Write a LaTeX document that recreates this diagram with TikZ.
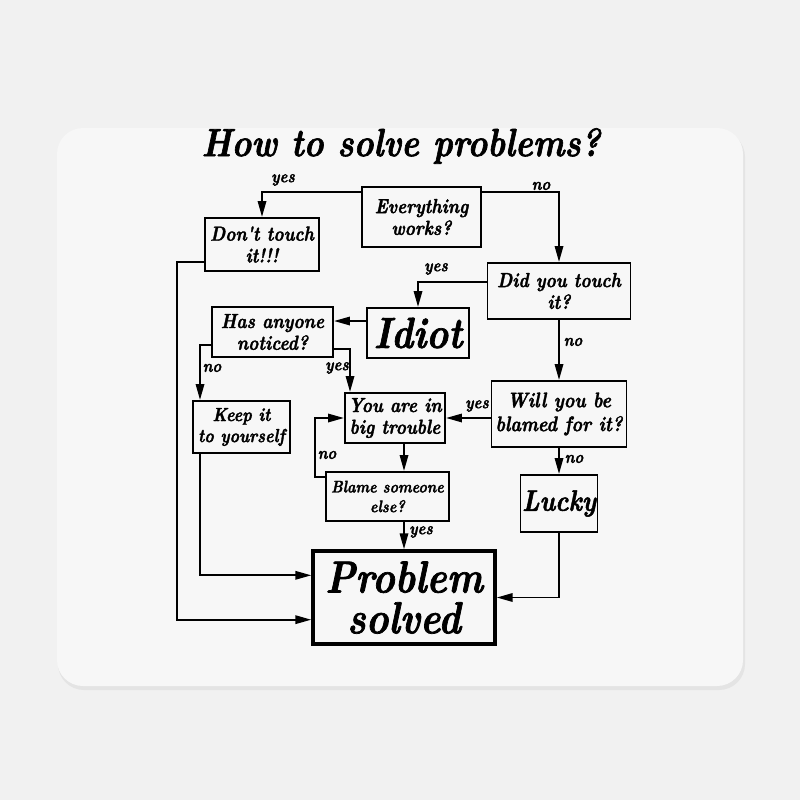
\documentclass[tikz,border=0pt]{standalone}
\usepackage{fontspec}
\usepackage{tikz}
\usetikzlibrary{positioning,arrows.meta,calc}
\newfontfamily\flowfam{lmroman10-bolditalic.otf}[FakeStretch=0.85, FakeBold=1.6]
\definecolor{bggray}{RGB}{241,241,241}
\definecolor{padgray}{RGB}{247,247,247}
\definecolor{shadegray}{RGB}{228,228,228}
\newcommand{\flowfont}[2]{\flowfam\fontsize{#1}{#2}\selectfont}
\tikzset{
  qbox/.style={draw=black, line width=1.4pt, align=center, inner sep=1pt, font=\flowfont{14.5}{15.5}},
  wh/.style 2 args={minimum width=#1*0.025cm, minimum height=#2*0.025cm},
  arr/.style={-{Triangle[length=4mm,width=2.1mm]}, line width=1.4pt, draw=black},
  lbl/.style={font=\flowfont{12.5}{12.5}, inner sep=0pt},
}

\begin{document}
\begin{tikzpicture}[x=0.025cm, y=-0.025cm]
    % mouse pad
    \fill[bggray] (0,0) rectangle (800,800);
    \fill[shadegray, rounded corners=0.65cm] (58,131) rectangle (745,690);
    \fill[padgray, rounded corners=0.65cm] (57,128) rectangle (743,686);
    \node[font=\flowfont{28}{30}] (title) at (401,146) {How to solve problems?};
    % boxes
    \node[qbox, wh={119}{60}] (works) at (421.5,217) {Everything\\works?};
    \node[qbox, wh={114}{53}] (donttouch) at (262,244.5) {Don't touch\\it!!!};
    \node[qbox, wh={143}{56}] (touched) at (559,291) {Did you touch\\it?};
    \node[qbox, wh={102}{50}, font=\flowfont{31}{32}] (idiot) at (418,333) {Idiot};
    \node[qbox, wh={121}{50}] (noticed) at (272.5,332) {Has anyone\\noticed?};
    \node[qbox, wh={97}{52}, font=\flowfont{13.5}{15}] (keep) at (241.5,427) {Keep it\\to yourself};
    \node[qbox, wh={100}{50}] (trouble) at (395,418) {You are in\\big trouble};
    \node[qbox, wh={135}{66}, font=\flowfont{15}{17}] (blamed) at (559,414) {Will you be\\blamed for it?};
    \node[qbox, wh={123}{49}, font=\flowfont{12}{14}] (blame) at (387.5,496.5) {Blame someone\\else?};
    \node[qbox, wh={77}{57}, font=\flowfont{21}{24}] (lucky) at (559,503.5) {Lucky};
    \node[qbox, wh={182}{93}, line width=2.4pt, font=\flowfont{32}{29}] (solved) at (404,597.5) {Problem\\solved};
    % rails
    \coordinate (railL) at (177,0);
    \coordinate (railK) at (200,0);
    \coordinate (railY) at (350,0);
    % connectors
    \draw[arr] ([yshift=-0.15cm]works.north west) -| (donttouch.north);
    \draw[arr] ([yshift=-0.15cm]works.north east) -| (touched.north);
    \draw[arr] ([yshift=-0.5cm]touched.north west) -| (idiot.north);
    \draw[arr] (touched.south) -- (blamed.north);
    \draw[arr] ([yshift=-0.35cm]idiot.north west) -- ([yshift=-0.35cm]idiot.north west -| noticed.east);
    \draw[arr] ([yshift=0.33cm]noticed.south west) -| (keep.north -| railK);
    \draw[arr] ([yshift=0.23cm]noticed.south east) -| (trouble.north -| railY);
    \draw[arr] (trouble.east -| blamed.west) -- (trouble.east);
    \draw[arr] (blamed.south) -- (lucky.north);
    \draw[arr] (trouble.south -| solved.north) -- (blame.north -| solved.north);
    \draw[arr] ([yshift=-0.15cm]blame.north west) -- ++(-0.25cm,0) |- (trouble.west);
    \draw[arr] (blame.south -| solved.north) -- (solved.north);
    \draw[arr] (keep.south -| railK) |- ([yshift=-0.65cm]solved.north west);
    \draw[arr] ([yshift=0.25cm]donttouch.south west) -- ([yshift=0.25cm]donttouch.south west -| railL) |- ([yshift=0.65cm]solved.south west);
    \draw[arr] (lucky.south) |- (solved.east);
    % yes / no labels
    \foreach \x/\y/\t [count=\i] in {283/180/yes, 541/186/no, 436/269/yes, 573/342/no, 212/368/no,
        337/368/yes, 477/406/yes, 327/455/no, 574/459/no, 421/532/yes}
      \node[lbl] (lab\i) at (\x,\y) {\t};
\end{tikzpicture}
\end{document}
